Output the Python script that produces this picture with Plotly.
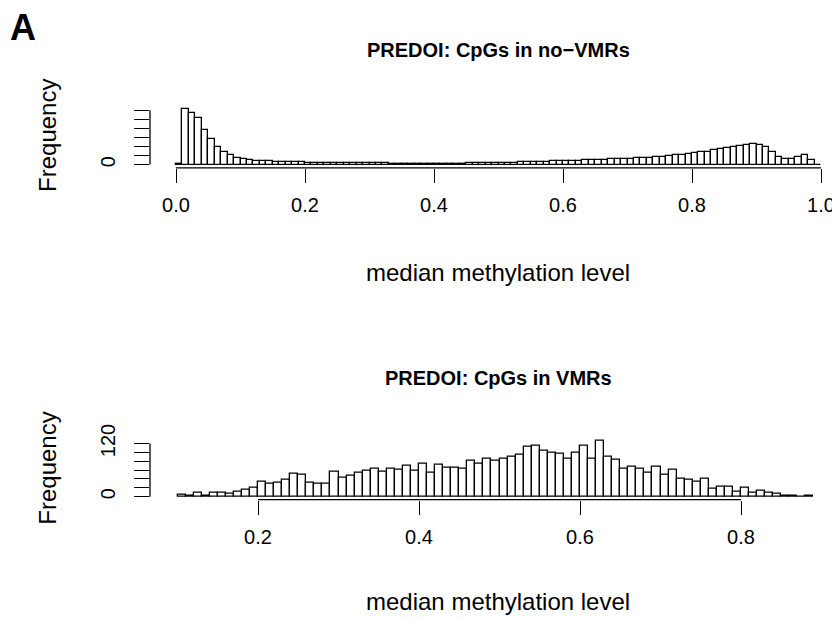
import plotly.graph_objects as go

W, H = 840, 619

# ---------------- data ----------------
bin_width = 0.01

top_bin_start = 0.00
top_counts = [
    200, 12300, 11500, 10250, 7550, 5700, 3900, 2720, 2060, 1540,
    1180, 1020, 880, 780, 700, 640, 600, 560, 520, 480,
    440, 420, 400, 380, 360, 340, 330, 320, 300, 290,
    280, 270, 260, 250, 240, 240, 230, 230, 220, 220,
    220, 230, 230, 240, 250, 260, 280, 300, 320, 340,
    360, 400, 440, 480, 540, 600, 640, 680, 720, 760,
    800, 840, 900, 960, 1020, 1080, 1120, 1180, 1220, 1280,
    1340, 1400, 1460, 1540, 1620, 1720, 1900, 2040, 2180, 2340,
    2500, 2720, 2860, 3160, 3460, 3680, 3900, 4040, 4340, 4560,
    4400, 3820, 2800, 1700, 1240, 1320, 1700, 2140, 1100, 0,
]
top_xticks = [0.0, 0.2, 0.4, 0.6, 0.8, 1.0]
top_xticklabels = ["0.0", "0.2", "0.4", "0.6", "0.8", "1.0"]
top_yticks = [0, 2000, 4000, 6000, 8000, 10000, 12000]
top_yticklabels = ["0", "", "", "", "", "", ""]

bot_bin_start = 0.10
bot_counts = [
    4, 2, 8, 2, 9, 8, 6, 12, 16, 20,
    33, 29, 31, 38, 51, 49, 32, 29, 29, 56,
    43, 48, 55, 58, 63, 56, 64, 61, 70, 59,
    74, 54, 73, 66, 65, 62, 80, 74, 85, 82,
    86, 90, 95, 113, 115, 104, 100, 97, 86, 98,
    115, 86, 126, 91, 84, 63, 68, 64, 53, 67,
    50, 60, 41, 38, 33, 41, 19, 23, 23, 11,
    21, 10, 14, 8, 6, 2, 2, 1, 2,
]
bot_xticks = [0.2, 0.4, 0.6, 0.8]
bot_xticklabels = ["0.2", "0.4", "0.6", "0.8"]
bot_yticks = [0, 20, 40, 60, 80, 100, 120]
bot_yticklabels = ["0", "", "", "", "", "", "120"]

top_title = "PREDOI: CpGs in no\u2212VMRs"
bot_title = "PREDOI: CpGs in VMRs"
x_label = "median methylation level"
y_label = "Frequency"
panel_label = "A"

# ---------------- layout helpers ----------------
FONT = "Liberation Sans, Arial, Helvetica, sans-serif"
LW = 1.3
OX = 8            # horizontal page offset
OY0, SY = 22, 0.978  # empirical vertical mapping of figure onto screen


def py(t):
    p = (t - OY0) / SY
    return 1 - p / H


def px_x(px):
    return (px - OX) / W


def centers(start, n):
    return [round(start + (i + 0.5) * bin_width, 6) for i in range(n)]


fig = go.Figure()

fig.add_trace(go.Bar(
    x=centers(top_bin_start, len(top_counts)), y=top_counts, width=bin_width,
    marker=dict(color="white", line=dict(color="black", width=LW)),
    xaxis="x", yaxis="y", showlegend=False, hoverinfo="x+y",
))
fig.add_trace(go.Bar(
    x=centers(bot_bin_start, len(bot_counts)), y=bot_counts, width=bin_width,
    marker=dict(color="white", line=dict(color="black", width=LW)),
    xaxis="x2", yaxis="y2", showlegend=False, hoverinfo="x+y",
))

tickfont = dict(family=FONT, size=20, color="black")

common_x = dict(showgrid=False, zeroline=False, showline=False, ticks="outside",
                ticklen=14, tickwidth=LW, tickcolor="black", tickfont=tickfont,
                ticklabelstandoff=5)
common_y = dict(showgrid=False, zeroline=False, showline=False, ticks="outside",
                ticklen=15, tickwidth=LW, tickcolor="black", tickfont=tickfont,
                tickangle=-90, ticklabelstandoff=11)

LEFT, RIGHT = 150, W + OX  # plot region in reference pixels

# top panel: 0 -> px 176, 1 -> px 821 ; y: 0 -> 164.7, 12000 -> 110.3
tx_scale = 645.0
tx0 = -(176 - LEFT) / tx_scale
tx1 = (RIGHT - 176) / tx_scale
ty_scale = (164.7 - 110.3) / 12000.0
ty0 = -(168 - 164.7) / ty_scale
ty1 = (164.7 - 106) / ty_scale

# bottom panel: 0.2 -> 258, 0.8 -> 741 ; y: 0 -> 497, 120 -> 443.7
bx_scale = (741 - 258) / 0.6
bx0 = 0.2 - (258 - LEFT) / bx_scale
bx1 = 0.2 + (RIGHT - 258) / bx_scale
by_scale = (497 - 443.7) / 120.0
by0 = -(500 - 497) / by_scale
by1 = (497 - 438) / by_scale

fig.update_layout(
    width=W, height=H, autosize=False,
    margin=dict(l=0, r=0, t=0, b=0),
    paper_bgcolor="white", plot_bgcolor="white",
    bargap=0,
    xaxis=dict(domain=[px_x(LEFT), 1.0], range=[tx0, tx1], anchor="y",
               tickvals=top_xticks, ticktext=top_xticklabels, **common_x),
    yaxis=dict(domain=[py(168), py(106)], range=[ty0, ty1], anchor="x",
               tickvals=top_yticks, ticktext=top_yticklabels, **common_y),
    xaxis2=dict(domain=[px_x(LEFT), 1.0], range=[bx0, bx1], anchor="y2",
                tickvals=bot_xticks, ticktext=bot_xticklabels, **common_x),
    yaxis2=dict(domain=[py(500), py(438)], range=[by0, by1], anchor="x2",
                tickvals=bot_yticks, ticktext=bot_yticklabels, **common_y),
)

# R-style axis lines spanning first..last tick
for xr, yr, xt, yt in [("x", "y", top_xticks, top_yticks), ("x2", "y2", bot_xticks, bot_yticks)]:
    fig.add_shape(type="line", xref=xr, yref=yr + " domain", x0=xt[0], x1=xt[-1], y0=0, y1=0,
                  line=dict(color="black", width=LW))
    fig.add_shape(type="line", xref=xr + " domain", yref=yr, x0=0, x1=0, y0=yt[0], y1=yt[-1],
                  line=dict(color="black", width=LW))


def note(text, x, y, size, angle=0, yanchor="middle"):
    return dict(text=text, x=px_x(x), y=py(y), xref="paper", yref="paper",
                xanchor="center", yanchor=yanchor, showarrow=False, textangle=angle,
                font=dict(family=FONT, size=size, color="black"))


ann = [note("<b>%s</b>" % panel_label, 23, 28, 36)]
for t, ycen in [(top_title, 50), (bot_title, 378)]:
    ann.append(note("<b>%s</b>" % t, 498, ycen, 20))
for ycen in [273, 602]:
    ann.append(note(x_label, 498, ycen, 24))
for ycen in [136, 469]:
    ann.append(note(y_label, 48, ycen, 24, -90))
fig.update_layout(annotations=ann)

fig.write_html("out.html")
